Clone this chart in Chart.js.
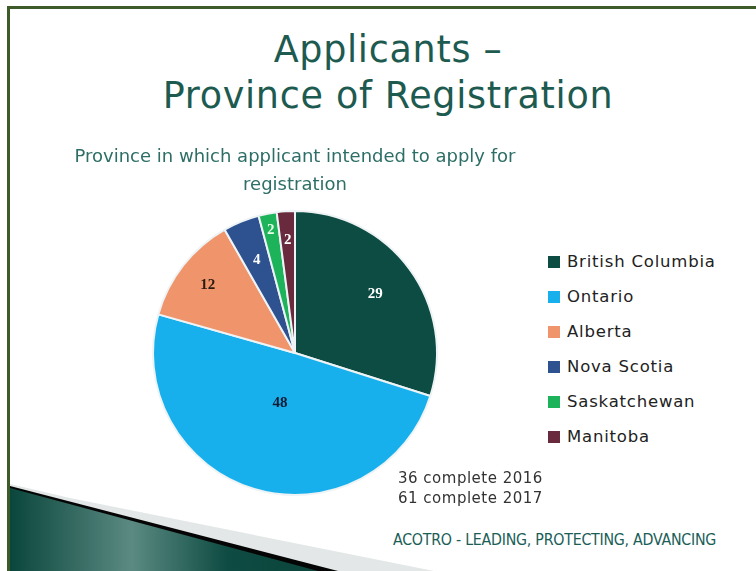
<!DOCTYPE html>
<html>
<head>
<meta charset="utf-8">
<script src="https://cdn.jsdelivr.net/npm/chart.js@4"></script>
<style>
  html, body { margin:0; padding:0; }
  body { width:756px; height:571px; overflow:hidden; background:#fff; position:relative; font-family:"DejaVu Sans", sans-serif; }
  .frame-top { position:absolute; left:7px; top:6px; right:0; height:3px; background:#3e5c2a; }
  .frame-left { position:absolute; left:7px; top:6px; bottom:0; width:3px; background:#3e5c2a; }
  .title { position:absolute; left:0; width:776px; top:27px; text-align:center; color:#1d5a4f;
           font-family:"DejaVu Sans", sans-serif; font-size:36.5px; letter-spacing:0.7px; line-height:46px; }
  #chart-wrap { position:absolute; left:60px; top:140px; width:470px; height:358px; }
  #legend { position:absolute; left:548px; top:244px; }
  .lg-row { display:flex; align-items:center; height:35px; font-size:16.5px; letter-spacing:0.8px; color:#222; }
  .lg-box { width:12px; height:12px; margin-right:7px; }
  .notes { position:absolute; left:398px; top:468px; font-size:15px; letter-spacing:0.5px; line-height:20px; color:#333; }
  .footer { position:absolute; left:393px; top:530px; font-family:"Liberation Sans Narrow", "DejaVu Sans Condensed", sans-serif;
            font-size:15.8px; color:#1b5e58; letter-spacing:-0.25px; }
  svg.deco { position:absolute; left:0; top:0; }
</style>
</head>
<body>
<svg class="deco" width="756" height="571">
  <defs>
    <linearGradient id="swoosh" x1="10" y1="0" x2="330" y2="0" gradientUnits="userSpaceOnUse">
      <stop offset="0" stop-color="#0a463c"/>
      <stop offset="0.38" stop-color="#5b8a82"/>
      <stop offset="0.68" stop-color="#0e4b42"/>
      <stop offset="1" stop-color="#0b443a"/>
    </linearGradient>
  </defs>
  <polygon points="70,498 434,571 10,571 10,484" fill="#e3e7e7"/>
  <polygon points="10,486 338,571 10,571" fill="#050505"/>
  <polygon points="10,488 318,571 10,571" fill="url(#swoosh)"/>
</svg>
<div class="frame-top"></div>
<div class="frame-left"></div>
<div class="title">Applicants –<br>Province of Registration</div>
<div id="chart-wrap"><canvas id="pieChart"></canvas></div>
<div id="legend"></div>
<div class="notes">36 complete 2016<br>61 complete 2017</div>
<div class="footer">ACOTRO - LEADING, PROTECTING, ADVANCING</div>

<script>
const PROVINCES = ['British Columbia','Ontario','Alberta','Nova Scotia','Saskatchewan','Manitoba'];
const APPLICANTS = [29, 48, 12, 4, 2, 2];
const COLORS = ['#0d4c43','#17b0ec','#f0956b','#2e5190','#1db35b','#6a2a3e'];
const LABEL_COLORS = ['#ffffff','#111a33','#2a1a10','#ffffff','#e8ffe8','#ffffff'];
const SUBTITLE = ['Province in which applicant intended to apply for','registration'];

// value labels inside slices (no datalabels plugin available offline)
const LABEL_RADIUS = [0.70, 0.37, 0.78, 0.71, 0.88, 0.80];
const sliceLabels = {
  id:'sliceLabels',
  afterDatasetsDraw(chart) {
    const ctx = chart.ctx;
    const meta = chart.getDatasetMeta(0);
    ctx.save();
    ctx.font = 'bold 15px "Liberation Serif", serif';
    ctx.textAlign = 'center';
    ctx.textBaseline = 'middle';
    meta.data.forEach((arc, i) => {
      const p = arc.getProps(['x','y','startAngle','endAngle','outerRadius'], true);
      const a = (p.startAngle + p.endAngle) / 2;
      const r = p.outerRadius * LABEL_RADIUS[i];
      ctx.fillStyle = LABEL_COLORS[i];
      ctx.fillText(String(chart.data.datasets[0].data[i]), p.x + Math.cos(a) * r, p.y + Math.sin(a) * r);
    });
    ctx.restore();
  }
};

function buildLegend() {
  document.getElementById('legend').innerHTML = PROVINCES.map((p, i) =>
    `<div class="lg-row"><div class="lg-box" style="background:${COLORS[i]}"></div>${p}</div>`
  ).join('');
}

function buildPie() {
  const ctx = document.getElementById('pieChart').getContext('2d');
  new Chart(ctx, {
    type:'pie',
    data:{ labels:PROVINCES, datasets:[{ data:APPLICANTS, backgroundColor:COLORS, borderColor:'#eef3f5', borderWidth:2, hoverOffset:0 }] },
    options:{
      responsive:true, maintainAspectRatio:false, animation:false,
      layout:{ padding:{ top:0, bottom:2 } },
      plugins:{
        legend:{ display:false },
        tooltip:{ enabled:false },
        title:{ display:true, text:SUBTITLE, color:'#2d6e66',
          font:{ size:18, family:'"DejaVu Sans", sans-serif', weight:'normal', lineHeight:1.556 },
          padding:{ top:3, bottom:11 } }
      }
    },
    plugins:[sliceLabels]
  });
}

window.addEventListener('DOMContentLoaded', () => {
  buildLegend();
  buildPie();
});
</script>
</body>
</html>
